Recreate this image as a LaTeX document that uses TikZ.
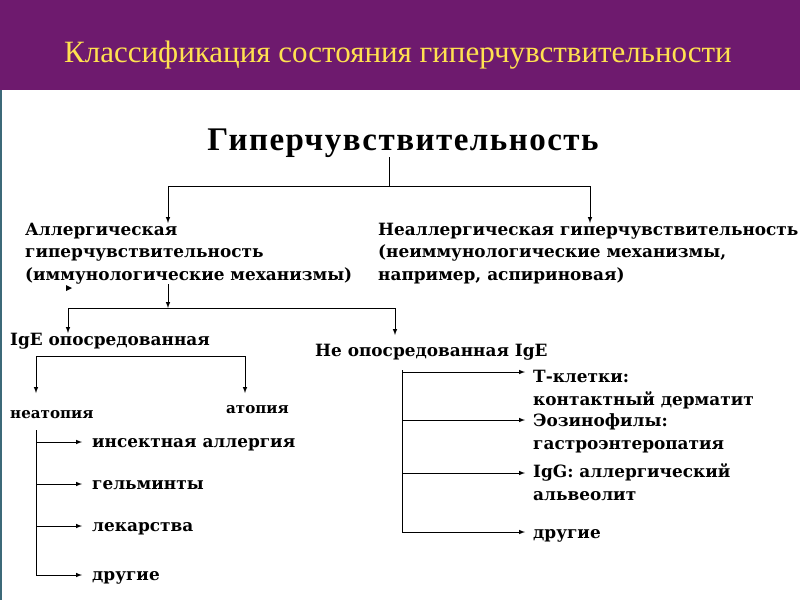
\documentclass[tikz,border=0pt]{standalone}
\usepackage{fontspec}
\setmainfont{Liberation Serif}
\newfontfamily\chartfont{DejaVu Serif}
\newfontfamily\rootfont[LetterSpace=4.5]{Liberation Serif}
\usetikzlibrary{positioning}

\definecolor{bandpurple}{RGB}{110,26,110}
\definecolor{titleyellow}{RGB}{255,225,80}
\definecolor{edgeteal}{RGB}{60,105,120}

\tikzset{
  rootbox/.style={anchor=base, inner sep=0pt, font=\rootfont\bfseries\fontsize{33}{36}\selectfont},
  % multi-line boxes sit on the baseline of their last line
  itembox/.style={anchor=base west, inner sep=0pt, align=left, font=\chartfont\bfseries\fontsize{16.9}{22.5}\selectfont},
  smallbox/.style={anchor=base west, inner sep=0pt, font=\chartfont\bfseries\fontsize{15.1}{18}\selectfont},
  link/.style={-latex, line width=1pt},
  plain/.style={line width=1pt},
}

\begin{document}
\begin{tikzpicture}[x=1pt,y=-1pt]
        \useasboundingbox (0,0) rectangle (800,600);

        % slide band
        \fill[bandpurple] (0,0) rectangle (800,90);
        \draw[edgeteal, line width=1.5pt] (1,90) -- (1,600);
        \node[anchor=base, inner sep=0pt, text=titleyellow, font=\fontsize{31}{34}\selectfont] (slidetitle) at (398,62) {Классификация состояния гиперчувствительности};

        % levels
        \node[rootbox] (root) at (403,150) {Гиперчувствительность};
        \node[itembox] (allergic) at (25,280) {Аллергическая\\гиперчувствительность\\(иммунологические механизмы)};
        \node[itembox] (nonallergic) at (378,280) {Неаллергическая гиперчувствительность\\(неиммунологические механизмы,\\например, аспириновая)};
        \node[itembox] (ige) at (10,345) {IgE опосредованная};
        \node[itembox] (nonige) at (315,356) {Не опосредованная IgE};
        \node[smallbox] (neatopy) at (10,418) {неатопия};
        \node[smallbox] (atopy) at (226,413) {атопия};

        % neatopy items
        \node[itembox] (insect) at (92,447) {инсектная аллергия};
        \node[itembox] (helminth) at (92,489) {гельминты};
        \node[itembox] (drugs) at (92,531) {лекарства};
        \node[itembox] (others) at (92,580) {другие};

        % non-IgE items
        \node[itembox] (tcells) at (533,405) {Т-клетки:\\контактный дерматит};
        \node[itembox] (eosin) at (533,449) {Эозинофилы:\\гастроэнтеропатия};
        \node[itembox] (igg) at (533,500) {IgG: аллергический\\альвеолит};
        \node[itembox] (nonigeothers) at (533,538) {другие};

        % split points
        \coordinate (rootsplit) at (389,186);
        \coordinate (allergicin) at (168,223);
        \coordinate (nonallergicin) at (590,223);
        \coordinate (allergicout) at (168,284);
        \coordinate (allergicsplit) at (168,308);
        \coordinate (igein) at (68,333);
        \coordinate (nonigein) at (395,335);
        \coordinate (igesplitl) at (36,356);
        \coordinate (igesplitr) at (245,356);
        \coordinate (neatopyin) at (36,393);
        \coordinate (atopyin) at (245,393);
        \coordinate (neatopytrunk) at (36,430);
        \coordinate (nonigetrunk) at (402,370);

        % hypersensitivity
        \draw[plain] (root.south -| rootsplit) -- (rootsplit);
        \draw[link] (rootsplit) -| (allergicin);
        \draw[link] (rootsplit) -| (nonallergicin);

        % allergic
        \draw[link] (allergicout) -- (allergicsplit);
        \draw[plain] (igein |- allergicsplit) -- (nonigein |- allergicsplit);
        \draw[link] (igein |- allergicsplit) -- (igein);
        \draw[link] (nonigein |- allergicsplit) -- (nonigein);
        \fill (66,285) -- (72,288) -- (66,291) -- cycle;

        % IgE
        \draw[link] (igesplitr) -- (igesplitl) -- (neatopyin);
        \draw[link] (igesplitr) -- (atopyin);

        % neatopy
        \draw[plain] (neatopytrunk) -- (36,575);
        \foreach \yy in {442, 484, 526, 575}
          \draw[link] (36,\yy) -- (82,\yy);

        % non-IgE
        \draw[plain] (nonigetrunk) -- (402,532);
        \foreach \yy in {372, 420, 473, 532}
          \draw[link] (402,\yy) -- (525,\yy);
\end{tikzpicture}
\end{document}
